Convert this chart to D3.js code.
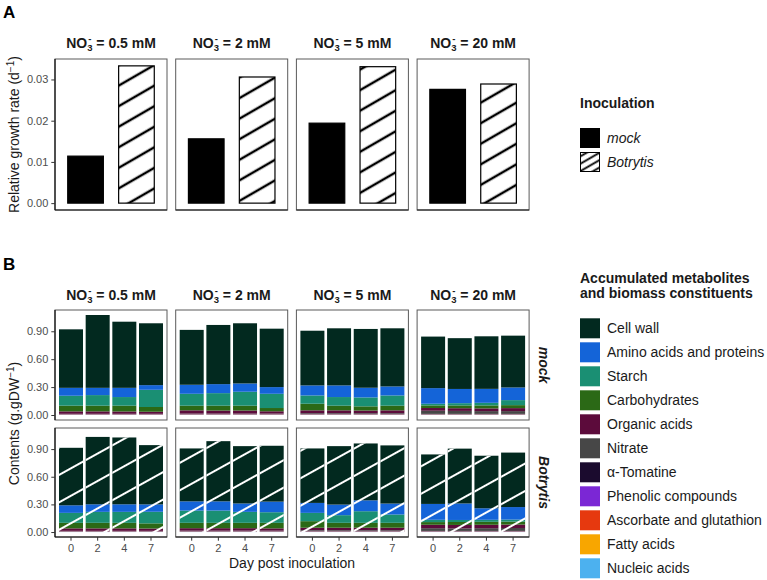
<!DOCTYPE html>
<html>
<head>
<meta charset="utf-8">
<script src="https://cdn.jsdelivr.net/npm/d3@7"></script>
<style>
  body { margin: 0; background: #fff; }
  svg { font-family: "Liberation Sans", Arial, sans-serif; }
</style>
</head>
<body>
<svg id="chart" width="767" height="580"></svg>
<script>
// ==========================================================================
// DATA
// ==========================================================================

var nitrateLevels = ["0.5", "2", "5", "20"]
var inoculations = ["mock", "Botrytis"]
var days = ["0", "2", "4", "7"]

// panel A : relative growth rate (d-1)
var rgrMock     = [0.0114, 0.0156, 0.0194, 0.0276]
var rgrBotrytis = [0.0333, 0.0306, 0.0331, 0.0289]

// panel B : contents (g.gDW-1)
// order : mock 0.5, 2, 5, 20 mM then Botrytis 0.5, 2, 5, 20 mM ; days 0, 2, 4, 7 in each
var metabolites = ["Cell wall", "Amino acids and proteins", "Starch", "Carbohydrates",
  "Organic acids", "Nitrate", "\u03b1-Tomatine", "Phenolic compounds",
  "Ascorbate and glutathion", "Fatty acids", "Nucleic acids"]
var metaboliteColors = ["#02291f", "#1464d8", "#1a8f73", "#2b6916", "#5c0b3b",
  "#474747", "#1b0b2e", "#7b27d5", "#e6390f", "#f8a600", "#4cb1ef"]

var cellWall = [
  0.629, 0.783, 0.711, 0.665,  0.590, 0.636, 0.647, 0.628,
  0.588, 0.614, 0.632, 0.625,  0.554, 0.546, 0.565, 0.557,
  0.624, 0.731, 0.725, 0.643,  0.574, 0.653, 0.622, 0.606,
  0.591, 0.634, 0.617, 0.631,  0.537, 0.595, 0.570, 0.591]
var aminoAcids = [
  0.085, 0.078, 0.099, 0.050,  0.097, 0.097, 0.089, 0.072,
  0.108, 0.125, 0.104, 0.097,  0.168, 0.153, 0.150, 0.136,
  0.082, 0.082, 0.082, 0.080,  0.100, 0.100, 0.091, 0.115,
  0.108, 0.115, 0.118, 0.119,  0.172, 0.179, 0.125, 0.136]
var starch = [
  0.107, 0.114, 0.093, 0.185,  0.128, 0.135, 0.150, 0.153,
  0.089, 0.093, 0.096, 0.110,  0.018, 0.024, 0.028, 0.054,
  0.108, 0.119, 0.119, 0.126,  0.133, 0.133, 0.119, 0.115,
  0.090, 0.083, 0.126, 0.090,  0.025, 0.022, 0.022, 0.022]
var carbohydrates = [
  0.061, 0.061, 0.062, 0.051,  0.050, 0.052, 0.052, 0.035,
  0.071, 0.050, 0.045, 0.050,  0.028, 0.030, 0.032, 0.032,
  0.060, 0.060, 0.060, 0.056,  0.058, 0.058, 0.058, 0.060,
  0.071, 0.053, 0.053, 0.053,  0.029, 0.032, 0.032, 0.032]
var organicAcids = [
  0.026, 0.026, 0.025, 0.022,  0.035, 0.033, 0.033, 0.025,
  0.030, 0.030, 0.028, 0.030,  0.029, 0.029, 0.029, 0.032,
  0.027, 0.027, 0.027, 0.025,  0.027, 0.027, 0.027, 0.025,
  0.027, 0.027, 0.027, 0.027,  0.037, 0.037, 0.037, 0.037]
var nitrate = [
  0.001, 0.001, 0.001, 0.001,  0.003, 0.003, 0.003, 0.003,
  0.008, 0.008, 0.008, 0.008,  0.034, 0.032, 0.030, 0.030,
  0.001, 0.001, 0.001, 0.001,  0.003, 0.003, 0.003, 0.003,
  0.008, 0.008, 0.008, 0.008,  0.030, 0.028, 0.030, 0.032]
var tomatine = [
  0.003, 0.003, 0.003, 0.003,  0.003, 0.003, 0.003, 0.003,
  0.003, 0.003, 0.003, 0.003,  0.003, 0.003, 0.003, 0.003,
  0.003, 0.003, 0.003, 0.003,  0.003, 0.003, 0.003, 0.003,
  0.003, 0.003, 0.003, 0.003,  0.003, 0.003, 0.003, 0.003]
var phenolics = [
  0.002, 0.002, 0.002, 0.002,  0.002, 0.002, 0.002, 0.002,
  0.002, 0.002, 0.002, 0.002,  0.002, 0.002, 0.002, 0.002,
  0.002, 0.002, 0.002, 0.002,  0.002, 0.002, 0.002, 0.002,
  0.002, 0.002, 0.002, 0.002,  0.002, 0.002, 0.002, 0.002]
var ascorbate = [
  0.002, 0.002, 0.002, 0.002,  0.002, 0.002, 0.002, 0.002,
  0.002, 0.002, 0.002, 0.002,  0.002, 0.002, 0.002, 0.002,
  0.002, 0.002, 0.002, 0.002,  0.002, 0.002, 0.002, 0.002,
  0.002, 0.002, 0.002, 0.002,  0.002, 0.002, 0.002, 0.002]
var fattyAcids = [
  0.002, 0.002, 0.002, 0.002,  0.002, 0.002, 0.002, 0.002,
  0.002, 0.002, 0.002, 0.002,  0.002, 0.002, 0.002, 0.002,
  0.002, 0.002, 0.002, 0.002,  0.002, 0.002, 0.002, 0.002,
  0.002, 0.002, 0.002, 0.002,  0.002, 0.002, 0.002, 0.002]
var nucleicAcids = [
  0.003, 0.003, 0.003, 0.003,  0.003, 0.003, 0.003, 0.003,
  0.003, 0.003, 0.003, 0.003,  0.003, 0.003, 0.003, 0.003,
  0.003, 0.003, 0.003, 0.003,  0.003, 0.003, 0.003, 0.003,
  0.003, 0.003, 0.003, 0.003,  0.003, 0.003, 0.003, 0.003]

var yTicksA = [0, 0.01, 0.02, 0.03]
var yTicksB = [0, 0.3, 0.6, 0.9]

// ==========================================================================
// D3 MAIN
// ==========================================================================

var svg = d3.select("#chart")
var tickColor = "#4d4d4d"
var borderColor = "#5a5a5a"

var panelX = [55, 175.7, 296.4, 417.1]
var panelW = 112
var rowA = {top: 59, bottom: 210}
var rowsB = [{top: 310, bottom: 420}, {top: 428, bottom: 537}]

// patterns
var defs = svg.append("defs")
function stripes(id, spacing, angle, color, width, bg) {
  var p = defs.append("pattern").attr("id", id)
    .attr("patternUnits", "userSpaceOnUse")
    .attr("width", 40).attr("height", spacing)
    .attr("patternTransform", "rotate(" + (-angle) + ")")
  if (bg) p.append("rect").attr("width", 40).attr("height", spacing).attr("fill", bg)
  p.append("line").attr("x1", 0).attr("x2", 40)
    .attr("y1", spacing / 2).attr("y2", spacing / 2)
    .attr("stroke", color).attr("stroke-width", width)
}
stripes("hatchA", 17.8, 30, "#000", 2.7, "#fff")
stripes("hatchKey", 6.4, 30, "#000", 1.9, "#fff")
stripes("hatchB", 24, 29, "#fff", 1.8, null)

// strip title with NO3- expression
function stripTitle(x, y, lvl) {
  var t = svg.append("text").attr("x", x).attr("y", y)
    .attr("text-anchor", "middle").attr("font-size", 14).attr("font-weight", "bold")
    .attr("fill", "#1a1a1a")
  t.append("tspan").text("NO")
  t.append("tspan").attr("font-size", 9.5).attr("dy", 3).text("3")
  t.append("tspan").attr("font-size", 9.5).attr("dx", -4.3).attr("dy", -9).text("-")
  t.append("tspan").attr("dx", 1.1).attr("dy", 6).text(" = " + lvl + " mM")
}

function panelBorder(x0, top, bottom, leftAxis, bottomAxis) {
  svg.append("rect").attr("x", x0).attr("y", top)
    .attr("width", panelW).attr("height", bottom - top)
    .attr("fill", "none").attr("stroke", borderColor).attr("stroke-width", 1)
  if (leftAxis) svg.append("line").attr("x1", x0).attr("x2", x0).attr("y1", top).attr("y2", bottom)
    .attr("stroke", "#111").attr("stroke-width", 1.2)
  if (bottomAxis) svg.append("line").attr("x1", x0).attr("x2", x0 + panelW).attr("y1", bottom).attr("y2", bottom)
    .attr("stroke", "#111").attr("stroke-width", 1.2)
}

function styleAxis(g) {
  g.select(".domain").remove()
  g.selectAll(".tick line").attr("stroke", "#333")
  g.selectAll(".tick text").attr("fill", tickColor).attr("font-size", 11)
    .attr("font-family", "Liberation Sans, Arial, sans-serif")
}

// ---------------- Panel A ----------------
svg.append("text").attr("x", 3).attr("y", 18).attr("font-size", 17).attr("font-weight", "bold").text("A")

var maxA = d3.max(rgrMock.concat(rgrBotrytis))
var yA = d3.scaleLinear().domain([-maxA * 0.05, maxA * 1.05]).range([rowA.bottom, rowA.top])

nitrateLevels.forEach(function(lvl, i) {
  var x0 = panelX[i]
  var xA = d3.scaleBand().domain(inoculations).range([x0, x0 + panelW])
    .paddingInner(0.3).paddingOuter(0.25)
  stripTitle(x0 + panelW / 2, 48, lvl)
  var vals = [rgrMock[i], rgrBotrytis[i]]
  svg.append("g").selectAll("rect").data(vals).enter().append("rect")
    .attr("x", function(d, j) { return xA(inoculations[j]) })
    .attr("y", function(d) { return yA(d) })
    .attr("width", xA.bandwidth())
    .attr("height", function(d) { return yA(0) - yA(d) })
    .attr("fill", function(d, j) { return j == 0 ? "#000" : "url(#hatchA)" })
    .attr("stroke", "#000").attr("stroke-width", 1.2)
  panelBorder(x0, rowA.top, rowA.bottom, i == 0, true)
})

var axA = svg.append("g").attr("transform", "translate(" + panelX[0] + ",0)")
  .call(d3.axisLeft(yA).tickValues(yTicksA).tickFormat(d3.format(".2f")).tickSize(3.7).tickPadding(3))
styleAxis(axA)

var titleA = svg.append("text").attr("transform", "translate(19," + ((rowA.top + rowA.bottom) / 2) + ") rotate(-90)")
  .attr("text-anchor", "middle").attr("font-size", 14).attr("fill", "#1a1a1a")
titleA.append("tspan").text("Relative growth rate (d")
titleA.append("tspan").attr("font-size", 10).attr("dy", -5).text("\u22121")
titleA.append("tspan").attr("dy", 5).text(")")

// legend A
svg.append("text").attr("x", 580).attr("y", 108).attr("font-size", 14).attr("font-weight", "bold")
  .attr("fill", "#1a1a1a").text("Inoculation")
inoculations.forEach(function(inoc, j) {
  var ky = 128 + j * 24
  svg.append("rect").attr("x", 580.5).attr("y", ky + 0.5).attr("width", 19).attr("height", 19)
    .attr("fill", j == 0 ? "#000" : "url(#hatchKey)").attr("stroke", "#000").attr("stroke-width", 1)
  svg.append("text").attr("x", 607).attr("y", ky + 10).attr("dy", "0.35em")
    .attr("font-size", 14).attr("font-style", "italic").attr("fill", "#1a1a1a").text(inoc)
})

// ---------------- Panel B ----------------
svg.append("text").attr("x", 3).attr("y", 270).attr("font-size", 17).attr("font-weight", "bold").text("B")

var series = [cellWall, aminoAcids, starch, carbohydrates, organicAcids, nitrate,
  tomatine, phenolics, ascorbate, fattyAcids, nucleicAcids]

var rows = []
inoculations.forEach(function(inoc, ii) {
  nitrateLevels.forEach(function(lvl, ni) {
    days.forEach(function(day, di) {
      var k = ii * 16 + ni * 4 + di
      var row = {inoc: ii, lvl: ni, day: day}
      metabolites.forEach(function(m, mi) { row[m] = series[mi][k] })
      rows.push(row)
    })
  })
})

var stacked = d3.stack().keys(metabolites.slice().reverse())(rows)
var maxB = d3.max(stacked[stacked.length - 1], function(d) { return d[1] })
var yB = rowsB.map(function(r) {
  return d3.scaleLinear().domain([-maxB * 0.05, maxB * 1.05]).range([r.bottom, r.top])
})
var xB = panelX.map(function(x0) {
  return d3.scaleBand().domain(days).range([x0, x0 + panelW]).paddingInner(0.1).paddingOuter(0.15)
})

var layerG = svg.append("g")
stacked.forEach(function(layer) {
  var color = metaboliteColors[metabolites.indexOf(layer.key)]
  layerG.append("g").selectAll("rect").data(layer).enter().append("rect")
    .attr("x", function(d) { return xB[d.data.lvl](d.data.day) })
    .attr("y", function(d) { return yB[d.data.inoc](d[1]) })
    .attr("width", xB[0].bandwidth())
    .attr("height", function(d) { return Math.max(0, yB[d.data.inoc](d[0]) - yB[d.data.inoc](d[1])) })
    .attr("fill", color)
})

// hatch over Botrytis bars
var totals = stacked[stacked.length - 1].filter(function(d) { return d.data.inoc == 1 })
layerG.append("g").selectAll("rect").data(totals).enter().append("rect")
  .attr("x", function(d) { return xB[d.data.lvl](d.data.day) })
  .attr("y", function(d) { return yB[1](d[1]) })
  .attr("width", xB[0].bandwidth())
  .attr("height", function(d) { return yB[1](0) - yB[1](d[1]) })
  .attr("fill", "url(#hatchB)")

nitrateLevels.forEach(function(lvl, i) {
  stripTitle(panelX[i] + panelW / 2, 299.5, lvl)
  rowsB.forEach(function(r, ri) {
    panelBorder(panelX[i], r.top, r.bottom, i == 0, ri == 1)
  })
  var axX = svg.append("g").attr("transform", "translate(0," + rowsB[1].bottom + ")")
    .call(d3.axisBottom(xB[i]).tickSize(3.7).tickPadding(3))
  styleAxis(axX)
})

rowsB.forEach(function(r, ri) {
  var axY = svg.append("g").attr("transform", "translate(" + panelX[0] + ",0)")
    .call(d3.axisLeft(yB[ri]).tickValues(yTicksB).tickFormat(d3.format(".2f")).tickSize(3.7).tickPadding(3))
  styleAxis(axY)
  svg.append("text")
    .attr("transform", "translate(543.5," + ((r.top + r.bottom) / 2) + ") rotate(90)")
    .attr("text-anchor", "middle").attr("dy", "0.35em")
    .attr("font-size", 14).attr("font-weight", "bold").attr("font-style", "italic")
    .attr("fill", "#1a1a1a").text(inoculations[ri])
})

var titleB = svg.append("text")
  .attr("transform", "translate(19," + ((rowsB[0].top + rowsB[1].bottom) / 2) + ") rotate(-90)")
  .attr("text-anchor", "middle").attr("font-size", 14).attr("fill", "#1a1a1a")
titleB.append("tspan").text("Contents (g.gDW")
titleB.append("tspan").attr("font-size", 10).attr("dy", -5).text("\u22121")
titleB.append("tspan").attr("dy", 5).text(")")

svg.append("text").attr("x", (panelX[0] + panelX[3] + panelW) / 2).attr("y", 568)
  .attr("text-anchor", "middle").attr("font-size", 14).attr("fill", "#1a1a1a")
  .text("Day post inoculation")

// legend B
svg.append("text").attr("x", 580).attr("y", 282.5).attr("font-size", 14).attr("font-weight", "bold")
  .attr("fill", "#1a1a1a").text("Accumulated metabolites")
svg.append("text").attr("x", 580).attr("y", 298.3).attr("font-size", 14).attr("font-weight", "bold")
  .attr("fill", "#1a1a1a").text("and biomass constituents")

var legB = svg.append("g").selectAll("g").data(metabolites).enter().append("g")
  .attr("transform", function(d, i) { return "translate(580," + (318.3 + i * 24) + ")" })
legB.append("rect").attr("width", 20).attr("height", 20)
  .attr("fill", function(d, i) { return metaboliteColors[i] })
legB.append("text").attr("x", 27).attr("y", 10).attr("dy", "0.35em")
  .attr("font-size", 14).attr("fill", "#1a1a1a").text(function(d) { return d })
</script>
</body>
</html>
